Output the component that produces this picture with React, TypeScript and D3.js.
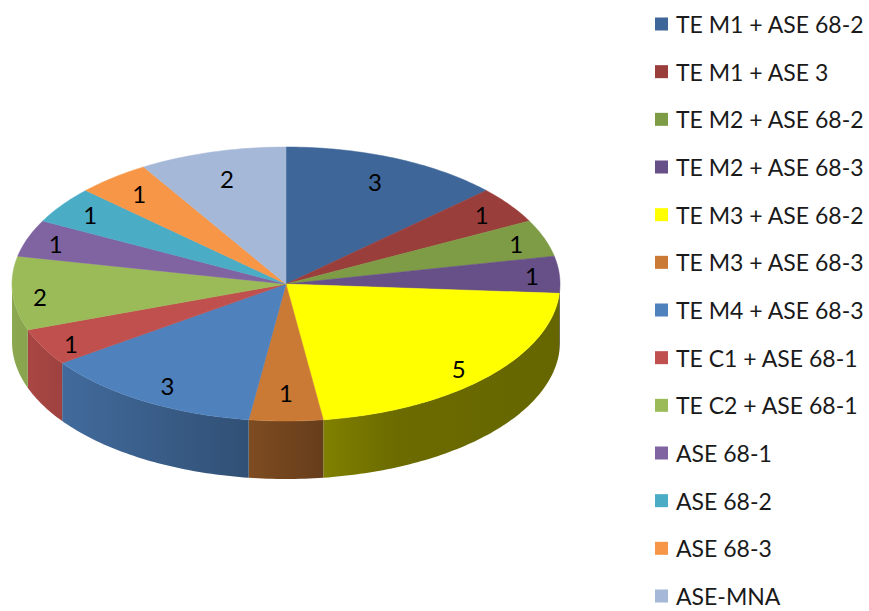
import React from "react";
import * as d3 from "d3";

const W = 869;
const H = 611;

const categories = [
  "TE M1 + ASE 68-2",
  "TE M1 + ASE 3",
  "TE M2 + ASE 68-2",
  "TE M2 + ASE 68-3",
  "TE M3 + ASE 68-2",
  "TE M3 + ASE 68-3",
  "TE M4 + ASE 68-3",
  "TE C1 + ASE 68-1",
  "TE C2 + ASE 68-1",
  "ASE 68-1",
  "ASE 68-2",
  "ASE 68-3",
  "ASE-MNA",
];
const values = [3, 1, 1, 1, 5, 1, 3, 1, 2, 1, 1, 1, 2];
const colors = [
  "#3F6698",
  "#9A3E3C",
  "#7E9B46",
  "#674F88",
  "#FFFF00",
  "#CB7A35",
  "#4F81BD",
  "#C0504D",
  "#9BBB59",
  "#8064A2",
  "#4BACC6",
  "#F79646",
  "#A6B8D8",
];

// pie geometry (flattened cylinder)
const CX = 286;
const CY = 284;
const RX = 274;
const RY = 137;
const DEPTH = 58;
const FONT = "Lato, 'Liberation Sans', sans-serif";

// side wall shading from left to right
const shade: [number, number][] = [
  [0, 0.9],
  [0.1, 0.82],
  [0.43, 0.62],
  [0.57, 0.5],
  [0.7, 0.42],
  [1, 0.4],
];

const px = (t: number, r = 1) => CX + RX * r * Math.sin(t);
const py = (t: number, r = 1) => CY - RY * r * Math.cos(t);

function darken(c: string, k: number) {
  const rgb = d3.rgb(c);
  return d3.rgb(rgb.r * k, rgb.g * k, rgb.b * k).formatHex();
}

function arcPoints(a0: number, a1: number, dy = 0) {
  const n = Math.max(2, Math.ceil(((a1 - a0) * 180) / Math.PI));
  return d3.range(n + 1).map((i) => {
    const t = a0 + ((a1 - a0) * i) / n;
    return [px(t), py(t) + dy] as [number, number];
  });
}

const line = d3.line();

export default function App() {
  const pie = d3
    .pie<number>()
    .sort(null)
    .startAngle(0)
    .endAngle(2 * Math.PI)
    .value((d) => d);
  const arcs = pie(values);

  const legendY = d3
    .scalePoint<number>()
    .domain(d3.range(categories.length))
    .range([24, 596]);

  const walls = arcs
    .map((a, i) => {
      const b0 = Math.max(a.startAngle, Math.PI / 2);
      const b1 = Math.min(a.endAngle, (3 * Math.PI) / 2);
      if (b1 <= b0) return null;
      const top = arcPoints(b0, b1);
      const bottom = arcPoints(b0, b1, DEPTH).reverse();
      return { i, d: line([...top, ...bottom]) + "Z" };
    })
    .filter((w) => w !== null) as { i: number; d: string }[];

  const tops = arcs.map((a, i) => ({
    i,
    d: line([[CX, CY], ...arcPoints(a.startAngle, a.endAngle)]) + "Z",
  }));

  const labels = arcs.map((a, i) => {
    const mid = (a.startAngle + a.endAngle) / 2;
    const r = 0.76 + 0.14 * Math.abs(Math.sin(mid));
    return { i, x: px(mid, r), y: py(mid, r) + (Math.cos(mid) < 0 ? 4 : 0) };
  });

  return (
    <div style={{ position: "absolute", left: 0, top: 0 }}>
      <svg width={W} height={H} style={{ display: "block", background: "#fff" }}>
        <defs>
          {colors.map((c, i) => (
            <linearGradient
              key={i}
              id={`wall-${i}`}
              gradientUnits="userSpaceOnUse"
              x1={CX - RX}
              x2={CX + RX}
              y1={0}
              y2={0}
            >
              {shade.map(([o, k]) => (
                <stop key={o} offset={o} stopColor={darken(c, k)} />
              ))}
            </linearGradient>
          ))}
        </defs>

        <g className="walls">
          {walls.map((w) => (
            <path key={w.i} d={w.d} fill={`url(#wall-${w.i})`} />
          ))}
        </g>

        <g className="tops">
          {tops.map((t) => (
            <path key={t.i} d={t.d} fill={colors[t.i]} stroke={colors[t.i]} strokeWidth={0.5} />
          ))}
        </g>

        <g className="labels" fontFamily={FONT} fontSize={24} fill="#000">
          {labels.map((l) => (
            <text key={l.i} x={l.x} y={l.y} textAnchor="middle" dominantBaseline="central">
              {values[l.i]}
            </text>
          ))}
        </g>

        <g className="legend" fontFamily={FONT} fontSize={23} fill="#1a1a1a">
          {categories.map((c, i) => (
            <g key={c} transform={`translate(655, ${legendY(i)})`}>
              <rect x={0} y={-6.5} width={13} height={13} fill={colors[i]} />
              <text x={21} y={0} dominantBaseline="central">
                {c}
              </text>
            </g>
          ))}
        </g>
      </svg>
    </div>
  );
}
